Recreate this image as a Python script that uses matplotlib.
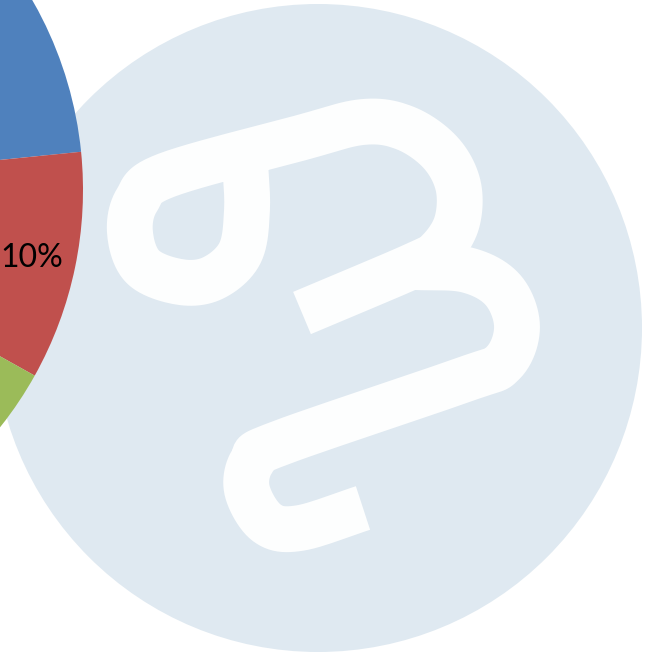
import matplotlib
matplotlib.use("Agg")
import matplotlib.pyplot as plt
from matplotlib.patches import Circle
import numpy as np

# pie data (only part of the pie is visible in the crop)
shares = [23.4, 9.7, 20.0, 17.0, 15.0, 14.9]
colors = ['#4F81BD', '#C0504D', '#9BBB59', '#8064A2', '#4BACC6', '#F79646']

# watermark logo strokes, in pixel coords (x right, y down)
logo_a = [(245, 160), (247, 210), (240, 253), (213, 278), (180, 282), (143, 267),
          (130, 233), (137, 200), (167, 175), (300, 138), (363, 122), (405, 128),
          (440, 152), (458, 185), (457, 222), (440, 250), (415, 265), (302, 313)]
logo_b = [(413, 267), (467, 270), (503, 290), (517, 327), (503, 363), (463, 380),
          (280, 443), (253, 460), (247, 490), (267, 523), (300, 528), (363, 508)]


def smooth(pts, n=12):
    # catmull-rom through the given points
    p = np.array(pts, dtype=float)
    p = np.vstack([p[0] * 2 - p[1], p, p[-1] * 2 - p[-2]])
    out = []
    for i in range(1, len(p) - 2):
        p0, p1, p2, p3 = p[i - 1], p[i], p[i + 1], p[i + 2]
        for t in np.linspace(0, 1, n, endpoint=False):
            t2, t3 = t * t, t * t * t
            out.append(0.5 * (2 * p1 + (-p0 + p2) * t + (2 * p0 - 5 * p1 + 4 * p2 - p3) * t2
                              + (-p0 + 3 * p1 - 3 * p2 + p3) * t3))
    out.append(p[-2])
    return np.array(out)


W, H = 654, 664
fig = plt.figure(figsize=(W / 100, H / 100), dpi=100)
ax = fig.add_axes([0, 0, 1, 1])

# light blue watermark disc
ax.add_patch(Circle((318, H - 328), 324, facecolor='#DFE9F1', edgecolor='none', zorder=1))

for pts in (logo_a, logo_b):
    s = smooth(pts)
    ax.plot(s[:, 0], H - s[:, 1], color='#FDFEFE', lw=33, solid_joinstyle='round',
            solid_capstyle='butt', zorder=2)

wedges, texts, autotexts = ax.pie(
    shares, colors=colors, startangle=90, counterclock=False,
    center=(-298, H - 190), radius=381, autopct='%.0f%%', pctdistance=0.885,
    textprops={'fontsize': 23, 'family': 'Lato', 'color': 'black'},
    wedgeprops={'linewidth': 0})
for w in wedges:
    w.set_zorder(3)
for t in autotexts:
    t.set_zorder(4)
    # labels of the slices outside the crop are not shown
    if t.get_position()[0] < 0:
        t.set_visible(False)

ax.set_xlim(0, W)
ax.set_ylim(0, H)
ax.set_aspect('auto')
ax.axis('off')

fig.savefig('out.png', dpi=100)
